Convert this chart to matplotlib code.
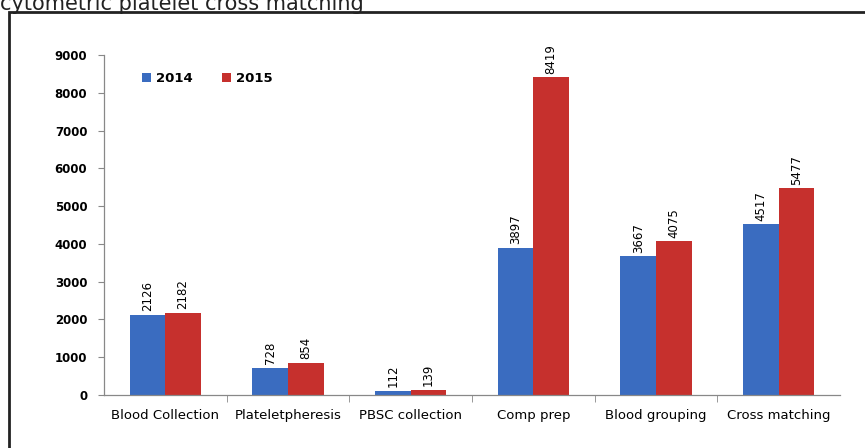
import numpy as np
import matplotlib.pyplot as plt
from matplotlib.patches import Rectangle

plt.rcParams['font.family'] = ['Liberation Sans Narrow', 'DejaVu Sans']

categorias = ['Blood Collection', 'Plateletpheresis', 'PBSC collection',
              'Comp prep', 'Blood grouping', 'Cross matching']
valores_2014 = [2126, 728, 112, 3897, 3667, 4517]
valores_2015 = [2182, 854, 139, 8419, 4075, 5477]
anos = ['2014', '2015']

cor_azul = '#3a6cc0'
cor_vermelha = '#c6302d'

fig = plt.figure(figsize=(8.65, 4.48), dpi=100)
ax = fig.add_axes([0.1202, 0.1183, 0.8509, 0.7589])

x = np.arange(len(categorias))
w = 0.29
b1 = ax.bar(x - w/2, valores_2014, w, color=cor_azul, label=anos[0])
b2 = ax.bar(x + w/2, valores_2015, w, color=cor_vermelha, label=anos[1])

# rotulos dos valores em cima das barras
for barras in (b1, b2):
    for r in barras:
        ax.text(r.get_x() + r.get_width()/2, r.get_height() + 90, str(int(r.get_height())),
                rotation=90, ha='center', va='bottom', fontsize=8.5)

ax.set_xlim(-0.5, len(categorias) - 0.5)
ax.set_ylim(0, 9000)
ax.set_yticks(np.arange(0, 9001, 1000))
ax.set_yticklabels([str(v) for v in range(0, 9001, 1000)], fontsize=8.5, fontweight='bold')

ax.set_xticks(x)
ax.set_xticklabels(categorias, fontsize=9.5)
ax.tick_params(axis='x', length=0, pad=10)
ax.set_xticks(np.arange(0.5, len(categorias) - 0.5, 1), minor=True)
ax.tick_params(axis='x', which='minor', length=5, color='#888888', direction='out')
ax.tick_params(axis='y', length=4, color='#888888', pad=8)

for s in ['top', 'right']:
    ax.spines[s].set_visible(False)
for s in ['left', 'bottom']:
    ax.spines[s].set_color('#888888')
    ax.spines[s].set_linewidth(0.9)

ax.legend(loc='upper left', bbox_to_anchor=(0.035, 0.985), ncol=2, frameon=False,
          handlelength=0.7, handleheight=0.7, handletextpad=0.4,
          columnspacing=2.2, prop={'weight': 'bold', 'size': 9.5})

# moldura preta e legenda cortada no topo (como no original)
fig.patches.append(Rectangle((9/865, -0.2), 1.2, 1.2 - 12/448, transform=fig.transFigure,
                             fill=False, edgecolor='#222222', linewidth=2.0))
fig.text(0.0, 1 - 10/448, 'cytometric platelet cross matching', fontsize=15,
         family='DejaVu Sans', color='#222222', ha='left', va='baseline')

fig.savefig('out.png', dpi=100)
